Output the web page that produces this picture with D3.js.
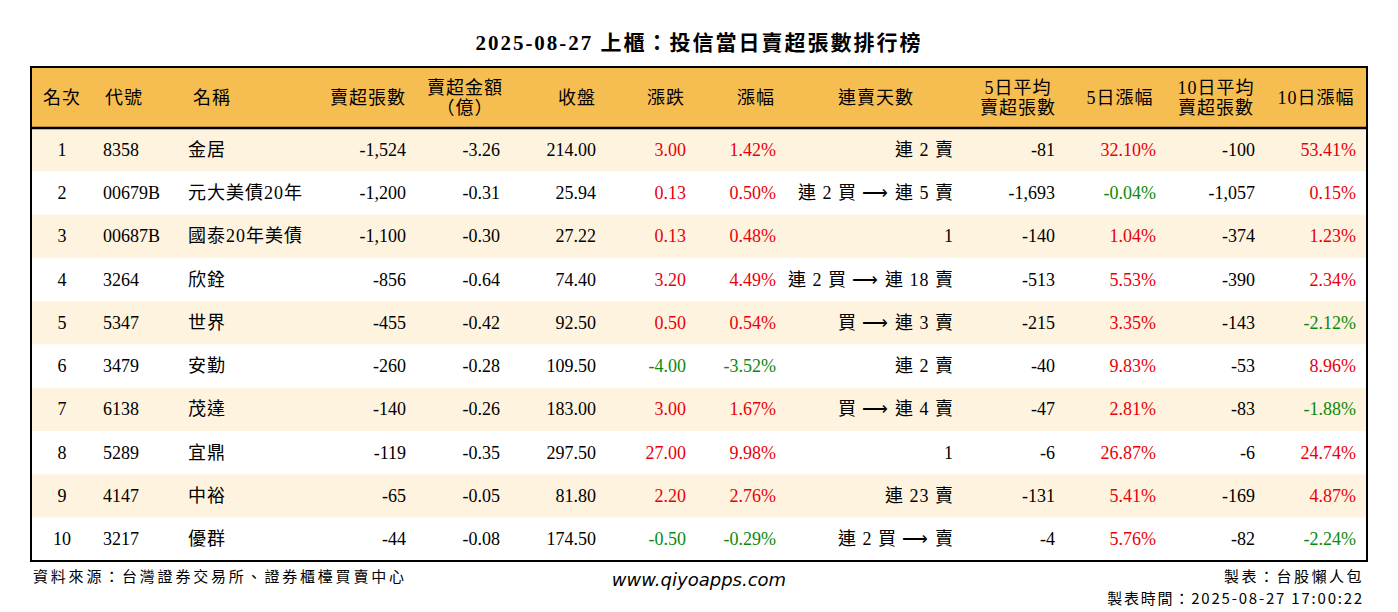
<!DOCTYPE html>
<html><head><meta charset="utf-8">
<script src="https://cdn.jsdelivr.net/npm/d3@7"></script>
<style>body{margin:0;background:#fff}</style></head>
<body><svg id="c" width="1398" height="612"></svg>
<script>
const title = "2025-08-27 上櫃：投信當日賣超張數排行榜";
const headers = [["名次"],["代號"],["名稱"],["賣超張數"],["賣超金額","（億）"],["收盤"],["漲跌"],["漲幅"],["連賣天數"],["5日平均","賣超張數"],["5日漲幅"],["10日平均","賣超張數"],["10日漲幅"]];
const ranks = [1,2,3,4,5,6,7,8,9,10];
const codes = ["8358","00679B","00687B","3264","5347","3479","6138","5289","4147","3217"];
const names = ["金居","元大美債20年","國泰20年美債","欣銓","世界","安勤","茂達","宜鼎","中裕","優群"];
const sellLots = ["-1,524","-1,200","-1,100","-856","-455","-260","-140","-119","-65","-44"];
const sellAmt = ["-3.26","-0.31","-0.30","-0.64","-0.42","-0.28","-0.26","-0.35","-0.05","-0.08"];
const closes = ["214.00","25.94","27.22","74.40","92.50","109.50","183.00","297.50","81.80","174.50"];
const changes = ["3.00","0.13","0.13","3.20","0.50","-4.00","3.00","27.00","2.20","-0.50"];
const pcts = ["1.42%","0.50%","0.48%","4.49%","0.54%","-3.52%","1.67%","9.98%","2.76%","-0.29%"];
const streaks = ["連 2 賣","連 2 買 ⟶ 連 5 賣","1","連 2 買 ⟶ 連 18 賣","買 ⟶ 連 3 賣","連 2 賣","買 ⟶ 連 4 賣","1","連 23 賣","連 2 買 ⟶ 賣"];
const avg5 = ["-81","-1,693","-140","-513","-215","-40","-47","-6","-131","-4"];
const pct5 = ["32.10%","-0.04%","1.04%","5.53%","3.35%","9.83%","2.81%","26.87%","5.41%","5.76%"];
const avg10 = ["-100","-1,057","-374","-390","-143","-53","-83","-6","-169","-82"];
const pct10 = ["53.41%","0.15%","1.23%","2.34%","-2.12%","8.96%","-1.88%","24.74%","4.87%","-2.24%"];
const cols = [ranks,codes,names,sellLots,sellAmt,closes,changes,pcts,streaks,avg5,pct5,avg10,pct10];
const colX = [62,103,188,406,500,596,686,776,954,1055,1156,1255,1356];
const align = ["middle","start","start","end","end","end","end","end","end","end","end","end","end"];
const hdrX = [62,124,212,368,465,577,666,756,876,1018,1120,1216,1316];
const colored = [false,false,false,false,false,false,true,true,false,false,true,false,true];

const svg = d3.select("#c");
const F = "'Liberation Serif','Noto Sans CJK TC',serif";
const L=31,R=1367,T=67,H=61,B=561;
const y = d3.scaleBand().domain(d3.range(10)).range([T+H,B]);
svg.append("text").attr("x",699).attr("y",50).attr("text-anchor","middle").attr("letter-spacing",2)
 .attr("font-family",F).attr("font-size",21).attr("font-weight","bold").text(title);
svg.append("rect").attr("x",L).attr("y",T).attr("width",R-L).attr("height",H).attr("fill","#F6BE50");
svg.selectAll("rect.row").data(ranks).join("rect").attr("x",L).attr("y",(d,i)=>y(i))
 .attr("width",R-L).attr("height",y.bandwidth()).attr("fill",(d,i)=>i%2==0?"#FEF3DE":"#fff");
svg.append("rect").attr("x",L).attr("y",T).attr("width",R-L).attr("height",B-T).attr("fill","none").attr("stroke","#000").attr("stroke-width",2);
svg.append("line").attr("x1",L).attr("x2",R).attr("y1",T+H).attr("y2",T+H).attr("stroke","#000").attr("stroke-width",2.5);
headers.forEach((h,j)=>{
  const t=svg.append("text").attr("font-family",F).attr("font-size",18).attr("text-anchor","middle").attr("letter-spacing",1);
  if(h.length==1) t.append("tspan").attr("x",hdrX[j]).attr("y",T+H/2+6).text(h[0]);
  else h.forEach((s,k)=>t.append("tspan").attr("x",hdrX[j]).attr("y",T+H/2-4+k*20).text(s));
});
cols.forEach((arr,j)=>{
  svg.selectAll("text.c"+j).data(arr).join("text").attr("class","c"+j)
   .attr("x",colX[j]).attr("y",(d,i)=>y(i)+y.bandwidth()/2+6).attr("text-anchor",align[j])
   .attr("font-family",F).attr("font-size",18)
   .attr("letter-spacing",(j==2||j==8)?1:0)
   .attr("fill",d=>colored[j]?(String(d).startsWith("-")?"#0A8A0A":"#E8000B"):"#000")
   .text(d=>d);
});
const FS="'Noto Sans CJK TC',sans-serif";
svg.append("text").attr("x",33).attr("y",582).attr("font-family",FS).attr("font-size",15).attr("letter-spacing",2.8).text("資料來源：台灣證券交易所、證券櫃檯買賣中心");
svg.append("text").attr("x",699).attr("y",586).attr("text-anchor","middle").attr("font-family","'DejaVu Sans',sans-serif").attr("font-style","italic").attr("font-size",18).text("www.qiyoapps.com");
svg.append("text").attr("x",1364).attr("y",582).attr("text-anchor","end").attr("font-family",FS).attr("font-size",15).attr("letter-spacing",2.5).text("製表：台股懶人包");
svg.append("text").attr("x",1364).attr("y",604).attr("text-anchor","end").attr("font-family",FS).attr("font-size",15).attr("letter-spacing",1.8).text("製表時間：2025-08-27 17:00:22");
</script></body></html>
